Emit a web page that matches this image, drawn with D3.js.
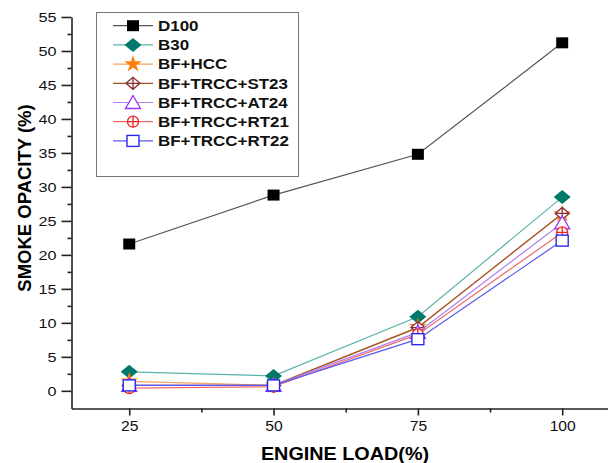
<!DOCTYPE html>
<html>
<head>
<meta charset="utf-8">
<script src="https://cdn.jsdelivr.net/npm/d3@7"></script>
<style>
  body { margin: 0; background: #fff; }
  text { font-family: "Liberation Sans", Arial, sans-serif; }
</style>
</head>
<body>
<div id="chart"></div>
<script>
// data
var loads = [25, 50, 75, 100];
var d100 = [21.6, 28.8, 34.8, 51.2];
var b30 = [2.8, 2.2, 10.9, 28.5];
var bfHcc = [1.4, 0.8, 9.4, 26.0];
var st23 = [0.8, 0.8, 9.3, 26.1];
var at24 = [0.8, 0.8, 8.6, 24.7];
var rt21 = [0.4, 0.6, 8.3, 23.3];
var rt22 = [0.8, 0.8, 7.6, 22.1];
var seriesNames = ["D100", "B30", "BF+HCC", "BF+TRCC+ST23", "BF+TRCC+AT24", "BF+TRCC+RT21", "BF+TRCC+RT22"];
var yTicks = [0, 5, 10, 15, 20, 25, 30, 35, 40, 45, 50, 55];

var seriesValues = [d100, b30, bfHcc, st23, at24, rt21, rt22];
var markerColors = ["#000000", "#00796b", "#ff7f0e", "#8b2f2f", "#9b30ff", "#ee2020", "#2a2aee"];
var lineColors = ["#555555", "#5ab4ac", "#f4a460", "#a0522d", "#b07ef0", "#f06a6a", "#5a5af0"];
var markerTypes = ["square", "diamond", "star", "diamondCross", "triangle", "circleCross", "squareOpen"];

var width = 608, height = 463;

var svg = d3.select("#chart")
  .append("svg")
    .attr("width", width)
    .attr("height", height);

var x = d3.scaleLinear().domain([15, 110]).range([71.5, 71.5 + 95 * 5.773]);
var y = d3.scaleLinear().domain([-2.6, 55]).range([408.5, 17]);

// Y axis (major + minor)
var yAxis = svg.append("g")
  .attr("transform", "translate(" + x(15) + ",0)")
  .call(d3.axisLeft(y).tickValues(yTicks).tickSize(10).tickSizeOuter(0).tickPadding(5));
yAxis.selectAll("text")
  .style("font-size", "13.5px")
  .attr("fill", "#111")
  .attr("x", 0)
  .attr("transform", "translate(-15,0) scale(1.2,1)");
svg.append("g")
  .attr("transform", "translate(" + x(15) + ",0)")
  .call(d3.axisLeft(y).tickValues(d3.range(2.5, 55, 5)).tickSize(4).tickFormat(""))
  .select(".domain").remove();

// X axis (major + minor)
var xAxis = svg.append("g")
  .attr("transform", "translate(0," + y(-2.6) + ")")
  .call(d3.axisBottom(x).tickValues(loads).tickSize(7).tickSizeOuter(0).tickPadding(6));
xAxis.selectAll("text")
  .style("font-size", "14px")
  .attr("fill", "#111")
  .attr("transform", "scale(1.12,1)")
  .attr("x", 0);
svg.append("g")
  .attr("transform", "translate(0," + y(-2.6) + ")")
  .call(d3.axisBottom(x).tickValues([37.5, 62.5, 87.5]).tickSize(4).tickFormat(""))
  .select(".domain").remove();

svg.selectAll(".domain, .tick line").attr("stroke", "#222").attr("stroke-width", 1.6);

// axis titles
svg.append("text")
  .attr("transform", "translate(345,460) scale(1.1,1)")
  .attr("text-anchor", "middle")
  .style("font-size", "18px")
  .style("font-weight", "bold")
  .text("ENGINE LOAD(%)");

svg.append("text")
  .attr("transform", "translate(30.5,198) rotate(-90)")
  .attr("text-anchor", "middle")
  .style("font-size", "18.5px")
  .style("font-weight", "bold")
  .text("SMOKE OPACITY (%)");

// marker drawing
function drawMarker(g, type, color) {
  if (type == "square") {
    g.append("rect").attr("x", -6).attr("y", -5.5).attr("width", 12).attr("height", 11).attr("fill", color);
  } else if (type == "diamond") {
    g.append("path").attr("d", "M-8.5,0L0,-7L8.5,0L0,7Z").attr("fill", color);
  } else if (type == "star") {
    g.append("path").attr("d", d3.symbol().type(d3.symbolStar).size(95)()).attr("fill", color);
  } else if (type == "diamondCross") {
    g.append("path").attr("d", "M-7,0L0,-6L7,0L0,6Z M-7,0L7,0 M0,-6L0,6")
      .attr("fill", "#fff").attr("stroke", color).attr("stroke-width", 1.3);
  } else if (type == "triangle") {
    g.append("path").attr("d", "M-7.5,6L0,-7L7.5,6Z")
      .attr("fill", "#fff").attr("stroke", color).attr("stroke-width", 1.3);
  } else if (type == "circleCross") {
    g.append("circle").attr("r", 5.5).attr("fill", "#fff").attr("stroke", color).attr("stroke-width", 1.3);
    g.append("path").attr("d", "M-5.5,0L5.5,0M0,-5.5L0,5.5").attr("stroke", color).attr("stroke-width", 1.3);
  } else {
    g.append("rect").attr("x", -6).attr("y", -5.5).attr("width", 12).attr("height", 11)
      .attr("fill", "#fff").attr("stroke", color).attr("stroke-width", 1.4);
  }
}

var line = d3.line()
  .x(function(d) { return x(d[0]); })
  .y(function(d) { return y(d[1]); });

// series
seriesValues.forEach(function(vals, i) {
  var pts = loads.map(function(l, j) { return [l, vals[j]]; });
  var g = svg.append("g");
  g.append("path")
    .attr("d", line(pts))
    .attr("fill", "none")
    .attr("stroke", lineColors[i])
    .attr("stroke-width", 1.2);
  pts.forEach(function(p) {
    drawMarker(g.append("g").attr("transform", "translate(" + x(p[0]) + "," + y(p[1]) + ")"), markerTypes[i], markerColors[i]);
  });
});

// legend
var legend = svg.append("g");
legend.append("rect")
  .attr("x", 96.5).attr("y", 12.5)
  .attr("width", 202).attr("height", 164)
  .attr("fill", "#fff")
  .attr("stroke", "#777")
  .attr("stroke-width", 1);

seriesNames.forEach(function(name, i) {
  var ry = 25.7 + i * 19.2;
  legend.append("line")
    .attr("x1", 113).attr("x2", 153)
    .attr("y1", ry).attr("y2", ry)
    .attr("stroke", lineColors[i])
    .attr("stroke-width", 1.2);
  drawMarker(legend.append("g").attr("transform", "translate(133," + ry + ")"), markerTypes[i], markerColors[i]);
  legend.append("text")
    .attr("transform", "translate(158," + (ry + 5.2) + ") scale(1.17,1)")
    .style("font-size", "14.5px")
    .style("font-weight", "bold")
    .attr("fill", "#111")
    .text(name);
});
</script>
</body>
</html>
